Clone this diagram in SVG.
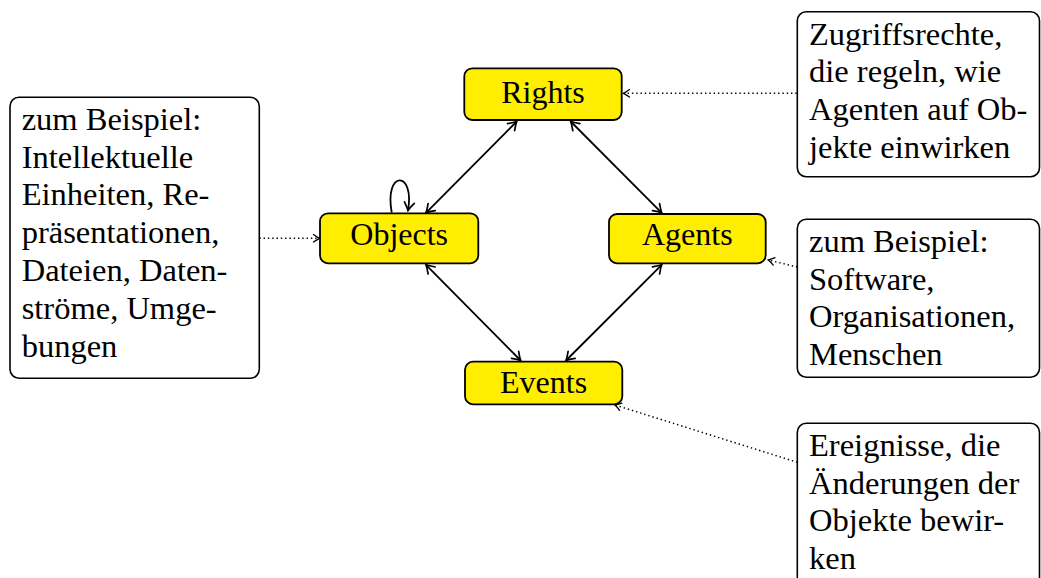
<svg xmlns="http://www.w3.org/2000/svg" width="1041" height="578" viewBox="0 0 1041 578">
  <style>
    .node rect { fill: #FFEE00; stroke: #000; stroke-width: 1.8; }
    .node text { font-family: "Liberation Serif", "Times New Roman", serif; font-size: 32px; text-anchor: middle; fill: #000; }
    .note rect { fill: #fff; stroke: #000; stroke-width: 1.6; }
    .note text { font-family: "Liberation Serif", "Times New Roman", serif; font-size: 32.5px; fill: #000; }
    .rel { fill: none; stroke: #000; stroke-width: 1.8; marker-start: url(#tip); marker-end: url(#tip); }
    .hint { fill: none; stroke: #000; stroke-width: 1.5; stroke-dasharray: 1.4 2.9; marker-end: url(#tipSmall); }
  </style>
  <defs>
    <marker id="tip" viewBox="-10 -7 12 14" refX="0" refY="0" markerWidth="12" markerHeight="14" markerUnits="userSpaceOnUse" orient="auto-start-reverse">
      <path d="M -8 -5 Q -2.8 -1.3 0 0 Q -2.8 1.3 -8 5" fill="none" stroke="#000" stroke-width="1.7" stroke-linecap="round"/>
    </marker>
    <marker id="tipSmall" viewBox="-8 -5 10 10" refX="0" refY="0" markerWidth="10" markerHeight="10" markerUnits="userSpaceOnUse" orient="auto">
      <path d="M -6 -3.8 Q -2.2 -1 0 0 Q -2.2 1 -6 3.8" fill="none" stroke="#000" stroke-width="1.3" stroke-linecap="round"/>
    </marker>
  </defs>

  <!-- relations between the four core entities -->
  <g id="connectors">
    <line class="rel" x1="516.7" y1="121.5" x2="426" y2="212.8"/>
    <line class="rel" x1="570.7" y1="121.5" x2="661.7" y2="212.8"/>
    <line class="rel" x1="426" y1="264.8" x2="520.7" y2="360.5"/>
    <line class="rel" x1="661.7" y1="264.8" x2="566" y2="360.5"/>
    <!-- self relation of Objects -->
    <path class="rel" style="marker-start: none" d="M 391.7 212.5 C 384 170, 415 170, 408 210.5"/>
    <!-- annotation pointers -->
    <line class="hint" x1="796.7" y1="93.3" x2="623.5" y2="93.3"/>
    <line class="hint" x1="259.3" y1="238.3" x2="319.5" y2="238.3"/>
    <line class="hint" x1="797.3" y1="267" x2="768.3" y2="260"/>
    <line class="hint" x1="797.3" y1="462.3" x2="615" y2="405"/>
  </g>

  <!-- core entities -->
  <g id="rights" class="node">
    <rect x="464.3" y="68.3" width="157.4" height="51.7" rx="8"/>
    <text x="543" y="102.7">Rights</text>
  </g>
  <g id="objects" class="node">
    <rect x="320" y="213.3" width="158.3" height="50" rx="8"/>
    <text x="399.2" y="245">Objects</text>
  </g>
  <g id="agents" class="node">
    <rect x="609" y="214" width="156.7" height="49.3" rx="8"/>
    <text x="687.3" y="245">Agents</text>
  </g>
  <g id="events" class="node">
    <rect x="465" y="361.7" width="157.3" height="42.6" rx="8"/>
    <text x="543.6" y="392.7">Events</text>
  </g>

  <!-- explanatory notes -->
  <g id="note-objects" class="note">
    <rect x="10" y="97.3" width="249.3" height="281" rx="9"/>
    <text x="21.7" y="129.7">zum Beispiel:</text>
    <text x="21.7" y="167.5">Intellektuelle</text>
    <text x="21.7" y="205.3">Einheiten, Re-</text>
    <text x="21.7" y="243.1">präsentationen,</text>
    <text x="21.7" y="280.9">Dateien, Daten-</text>
    <text x="21.7" y="318.7">ströme, Umge-</text>
    <text x="21.7" y="356.5">bungen</text>
  </g>
  <g id="note-rights" class="note">
    <rect x="797.3" y="11.7" width="242.2" height="165" rx="9"/>
    <text x="809" y="44.5">Zugriffsrechte,</text>
    <text x="809" y="82.3">die regeln, wie</text>
    <text x="809" y="120.1">Agenten auf Ob-</text>
    <text x="809" y="157.9">jekte einwirken</text>
  </g>
  <g id="note-agents" class="note">
    <rect x="797.3" y="219.3" width="242.2" height="158" rx="9"/>
    <text x="809" y="251.7">zum Beispiel:</text>
    <text x="809" y="289.5">Software,</text>
    <text x="809" y="327.3">Organisationen,</text>
    <text x="809" y="365.1">Menschen</text>
  </g>
  <g id="note-events" class="note">
    <rect x="797.3" y="423.3" width="242.2" height="180" rx="9"/>
    <text x="809" y="455.7">Ereignisse, die</text>
    <text x="809" y="493.5">Änderungen der</text>
    <text x="809" y="531.3">Objekte bewir-</text>
    <text x="809" y="569.1">ken</text>
  </g>
</svg>
